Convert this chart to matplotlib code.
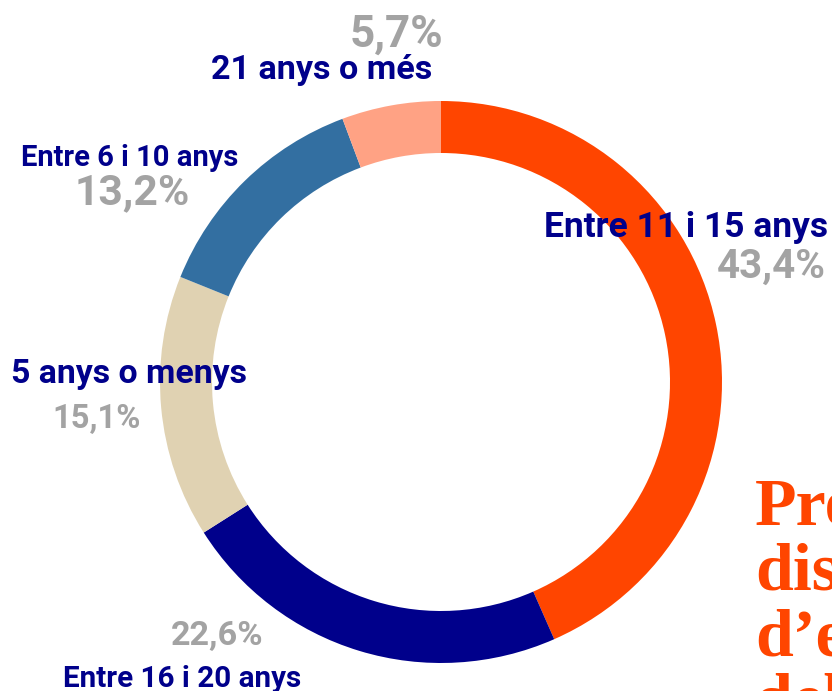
import matplotlib.pyplot as plt

# age groups of the donut, clockwise from the top
groups = ['Entre 11 i 15 anys', 'Entre 16 i 20 anys', '5 anys o menys',
          'Entre 6 i 10 anys', '21 anys o més']
shares = [43.4, 22.6, 15.1, 13.2, 5.7]
pct_labels = ['43,4%', '22,6%', '15,1%', '13,2%', '5,7%']
colors = ['#FF4500', '#00008B', '#E0D2B2', '#336FA1', '#FFA284']

W, H = 832, 691
navy = '#00008B'
grey = '#A3A3A3'

fig = plt.figure(figsize=(W / 100, H / 100), dpi=100)
ax = fig.add_axes([0, 0, 1, 1])

ax.pie(shares, colors=colors, startangle=90, counterclock=False,
       center=(441, H - 382), radius=281, frame=True,
       wedgeprops=dict(width=52, linewidth=0))
ax.set_xlim(0, W)
ax.set_ylim(0, H)
ax.set_aspect('equal')
ax.axis('off')


def lab(x, y, s, size, color, ha='center'):
    ax.text(x, H - y, s, fontsize=size, color=color, ha=ha, va='baseline',
            family='Roboto', fontweight='bold')


# category names
lab(686, 237, groups[0], 25.5, navy)
lab(182, 687, groups[1], 21.3, navy)
lab(129, 383, groups[2], 24.4, navy)
lab(130, 166, groups[3], 21, navy)
lab(322, 79, groups[4], 24.6, navy)

# percentages
lab(826, 278, pct_labels[0], 29, grey, ha='right')
lab(217, 645, pct_labels[1], 24.7, grey)
lab(97, 428, pct_labels[2], 23.6, grey)
lab(132, 204, pct_labels[3], 30.7, grey)
lab(396, 47, pct_labels[4], 31.7, grey)

# title running off the right edge
title_lines = ['Proporció', 'distribució', 'd’edats', 'dels vehicles']
for i, line in enumerate(title_lines):
    ax.text(755, H - (525 + 65 * i), line, fontsize=49, color='#FF4500',
            ha='left', va='baseline', family='Liberation Serif',
            fontweight='bold')

fig.savefig('out.png', dpi=100)
